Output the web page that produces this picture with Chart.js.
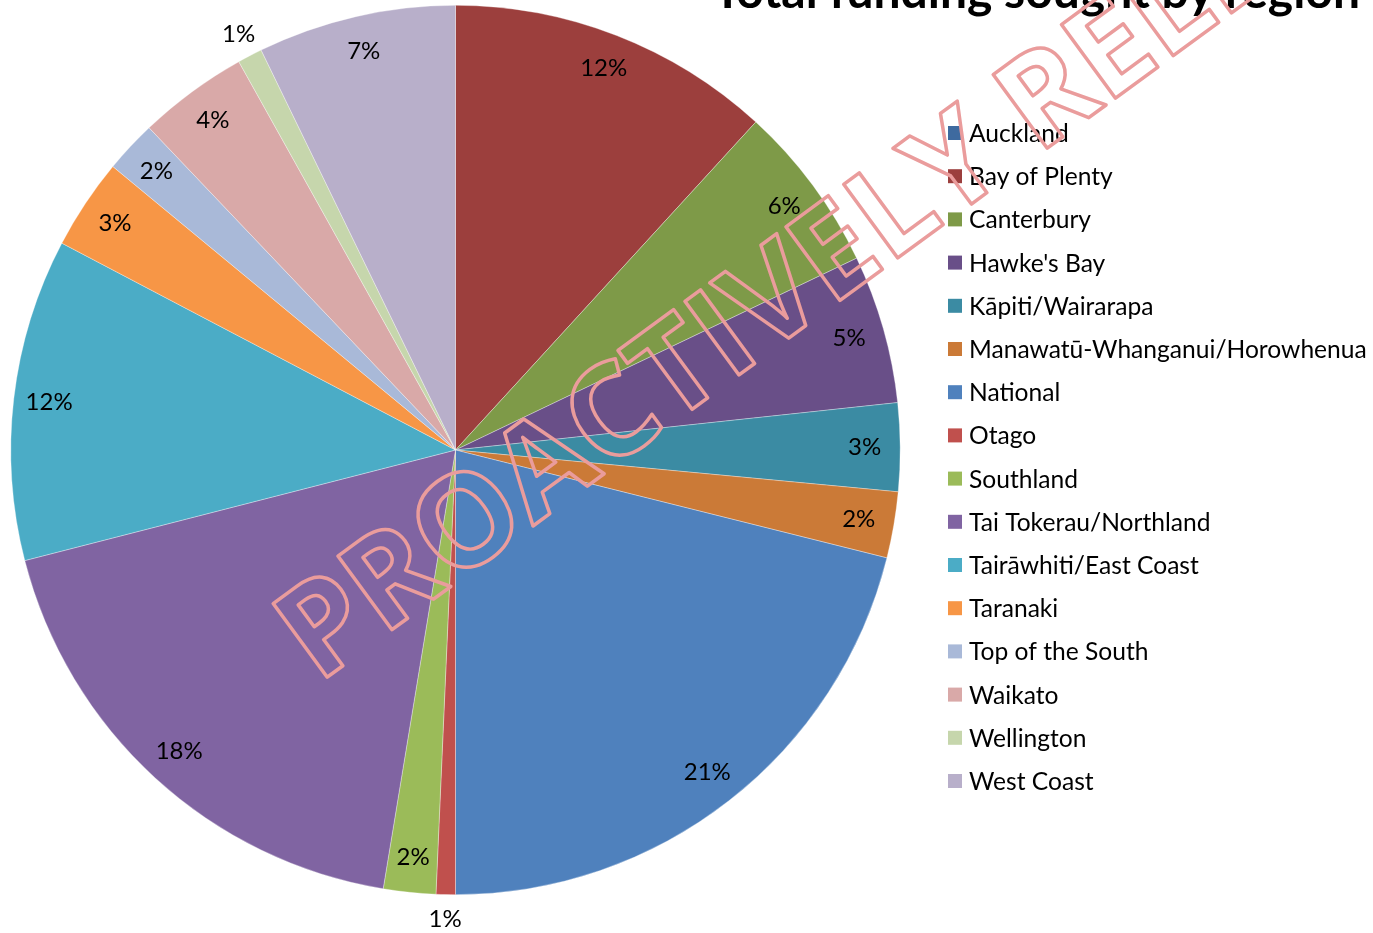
<!DOCTYPE html>
<html>
<head>
<meta charset="utf-8">
<title>Total funding sought by region</title>
<script src="https://cdn.jsdelivr.net/npm/chart.js@4.4.1/dist/chart.umd.min.js"></script>
<style>
    html, body { margin: 0; padding: 0; background: #ffffff; }
    #regionChart { display: block; }
</style>
</head>
<body>
<canvas id="regionChart" width="1373" height="933"></canvas>
<script>
    // data (share of total funding, %)
    var regions = ["Auckland", "Bay of Plenty", "Canterbury", "Hawke's Bay", "Kāpiti/Wairarapa",
                   "Manawatū-Whanganui/Horowhenua", "National", "Otago", "Southland",
                   "Tai Tokerau/Northland", "Tairāwhiti/East Coast", "Taranaki",
                   "Top of the South", "Waikato", "Wellington", "West Coast"];
    var shares = [0, 11.8, 6.1, 5.4, 3.2, 2.4, 21.1, 0.7, 1.9, 18.4, 11.7, 3.3, 1.9, 4.0, 0.9, 7.2];
    var colours = ['#3E6A9F', '#9C3F3D', '#7E9A48', '#694F88', '#3B8BA3', '#CB7A37',
                   '#4F81BD', '#C0504D', '#9BBB59', '#8064A2', '#4BACC6', '#F79646',
                   '#A9B9D8', '#D9A9A8', '#C6D6AC', '#B8AFCA'];
    var chartTitle = "Total funding sought by region";
    var watermark = "PROACTIVELY RELEASED";

    var FONT = "Lato, 'Open Sans', sans-serif";

    // percentage labels on/around the slices
    var sliceLabels = {
        id: 'sliceLabels',
        afterDatasetsDraw: function(chart) {
            var ctx = chart.ctx;
            var meta = chart.getDatasetMeta(0);
            var total = shares.reduce(function(a, b) { return a + b; }, 0);
            ctx.save();
            ctx.font = "24px " + FONT;
            ctx.fillStyle = '#000000';
            ctx.textAlign = 'center';
            ctx.textBaseline = 'middle';
            meta.data.forEach(function(arc, i) {
                var pct = shares[i] / total * 100;
                if (pct <= 0) return;
                var mid = (arc.startAngle + arc.endAngle) / 2;
                var r = pct < 1.5 ? arc.outerRadius * 1.055 : arc.outerRadius * 0.92;
                var x = arc.x + Math.cos(mid) * r;
                var y = arc.y + Math.sin(mid) * r;
                ctx.fillText(Math.round(pct) + '%', x, y);
            });
            ctx.restore();
        }
    };

    // legend, title and watermark
    var extras = {
        id: 'extras',
        afterDraw: function(chart) {
            var ctx = chart.ctx;
            ctx.save();

            // legend
            ctx.font = "24.6px " + FONT;
            ctx.textAlign = 'left';
            ctx.textBaseline = 'middle';
            regions.forEach(function(name, i) {
                var cy = 133 + i * 43.2;
                ctx.fillStyle = colours[i];
                ctx.fillRect(948, cy - 7, 14, 14);
                ctx.fillStyle = '#000000';
                ctx.fillText(name, 969, cy + 1);
            });

            // title (cut off at the top like the original)
            ctx.font = "bold 48px " + FONT;
            ctx.textAlign = 'right';
            ctx.textBaseline = 'alphabetic';
            ctx.fillStyle = '#000000';
            ctx.fillText(chartTitle, 1360, 8);

            // watermark
            ctx.translate(318, 684);
            ctx.rotate(-36.3 * Math.PI / 180);
            ctx.font = "bold 128px 'Open Sans', sans-serif";
            ctx.textAlign = 'left';
            ctx.textBaseline = 'alphabetic';
            ctx.lineJoin = 'round';
            ctx.lineWidth = 3.5;
            ctx.strokeStyle = '#EA9C9C';
            ctx.strokeText(watermark, 0, 0);

            ctx.restore();
        }
    };

    var ctx = document.getElementById('regionChart').getContext('2d');
    new Chart(ctx, {
        type: 'pie',
        data: {
            labels: regions,
            datasets: [{
                data: shares,
                backgroundColor: colours,
                borderColor: 'rgba(255,255,255,0.55)',
                borderWidth: 0.6
            }]
        },
        options: {
            responsive: false,
            animation: false,
            layout: {
                padding: { left: 10, top: 5, right: 472, bottom: 38 }
            },
            plugins: {
                legend: { display: false },
                title: { display: false },
                tooltip: { enabled: false }
            }
        },
        plugins: [sliceLabels, extras]
    });
</script>
</body>
</html>
